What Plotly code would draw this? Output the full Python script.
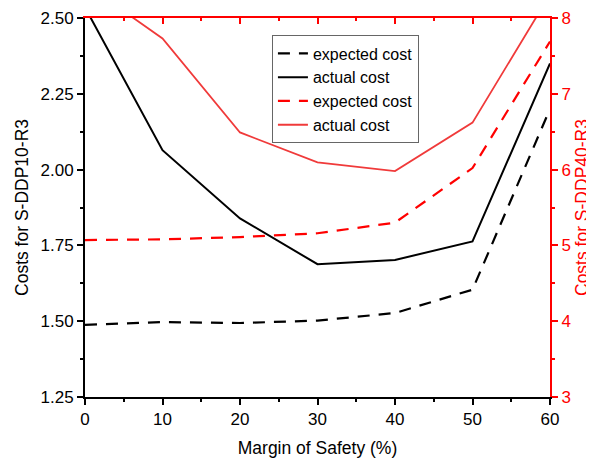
import plotly.graph_objects as go

margin = [0, 10, 20, 30, 40, 50, 60]
ddp10_expected = [1.488, 1.497, 1.494, 1.502, 1.527, 1.604, 2.20]
ddp10_actual = [2.535, 2.064, 1.839, 1.688, 1.702, 1.763, 2.35]
ddp40_expected = [5.07, 5.08, 5.11, 5.16, 5.30, 6.02, 7.69]
ddp40_actual = [8.45, 7.73, 6.49, 6.095, 5.98, 6.62, 8.31]

FONT = "Liberation Sans, Arial, sans-serif"
RED = "#ff0000"

fig = go.Figure()
fig.add_trace(go.Scatter(x=margin, y=ddp10_expected, mode="lines", name="expected cost",
                         line=dict(color="black", width=2.2, dash="12px,9px"),
                         xaxis="x", yaxis="y"))
fig.add_trace(go.Scatter(x=margin, y=ddp10_actual, mode="lines", name="actual cost",
                         line=dict(color="black", width=2),
                         xaxis="x", yaxis="y"))
fig.add_trace(go.Scatter(x=margin, y=ddp40_expected, mode="lines", name="expected cost",
                         line=dict(color=RED, width=2.2, dash="12px,9px"),
                         xaxis="x2", yaxis="y2"))
fig.add_trace(go.Scatter(x=margin, y=ddp40_actual, mode="lines", name="actual cost",
                         line=dict(color="#f03a3a", width=1.8),
                         xaxis="x2", yaxis="y2"))

fig.update_layout(
    width=586, height=450,
    margin=dict(l=77, r=44, t=9.5, b=60.5),
    paper_bgcolor="white", plot_bgcolor="white",
    font=dict(family=FONT, size=17, color="black"),
    showlegend=True,
    legend=dict(x=0.402, y=0.954, xanchor="left", yanchor="top",
                bgcolor="white", bordercolor="#666666", borderwidth=1,
                font=dict(family=FONT, size=16, color="black"),
                tracegroupgap=0, itemwidth=30),
    xaxis=dict(range=[0, 60], dtick=10, tick0=0, showgrid=False, zeroline=False,
               showline=True, linecolor="black", linewidth=2, automargin=False,
               ticks="outside", ticklen=6, tickwidth=2, tickcolor="black",
               minor=dict(dtick=5, ticks="outside", ticklen=3, tickwidth=2, tickcolor="black"),
               tickfont=dict(size=17),
               title=dict(text="Margin of Safety (%)", font=dict(size=17.5), standoff=15),
               anchor="y"),
    xaxis2=dict(range=[0, 60], dtick=10, tick0=0, overlaying="x", side="top", anchor="y",
                showgrid=False, zeroline=False, showticklabels=False, automargin=False,
                showline=True, linecolor=RED, linewidth=2,
                ticks="inside", ticklen=6, tickwidth=2, tickcolor=RED,
                minor=dict(dtick=5, ticks="inside", ticklen=3, tickwidth=2, tickcolor=RED)),
    yaxis=dict(range=[1.25, 2.50], dtick=0.25, tick0=1.25, tickformat=".2f",
               showgrid=False, zeroline=False, automargin=False,
               showline=True, linecolor="black", linewidth=2,
               ticks="outside", ticklen=6, tickwidth=2, tickcolor="black",
               minor=dict(dtick=0.125, ticks="outside", ticklen=3, tickwidth=2, tickcolor="black"),
               tickfont=dict(size=17),
               title=dict(text="Costs for S-DDP10-R3", font=dict(size=17.5), standoff=7),
               anchor="x"),
    yaxis2=dict(range=[3, 8], dtick=1, tick0=3, overlaying="y", side="right", anchor="x",
                showgrid=False, zeroline=False, automargin=False,
                showline=True, linecolor=RED, linewidth=2,
                ticks="outside", ticklen=6, tickwidth=2, tickcolor=RED,
                minor=dict(dtick=0.5, ticks="outside", ticklen=3, tickwidth=2, tickcolor=RED),
                tickfont=dict(size=17, color=RED),
                title=dict(text="Costs for S-DDP40-R3", font=dict(size=17.5, color=RED), standoff=6)),
)

fig.write_html("out.html")
